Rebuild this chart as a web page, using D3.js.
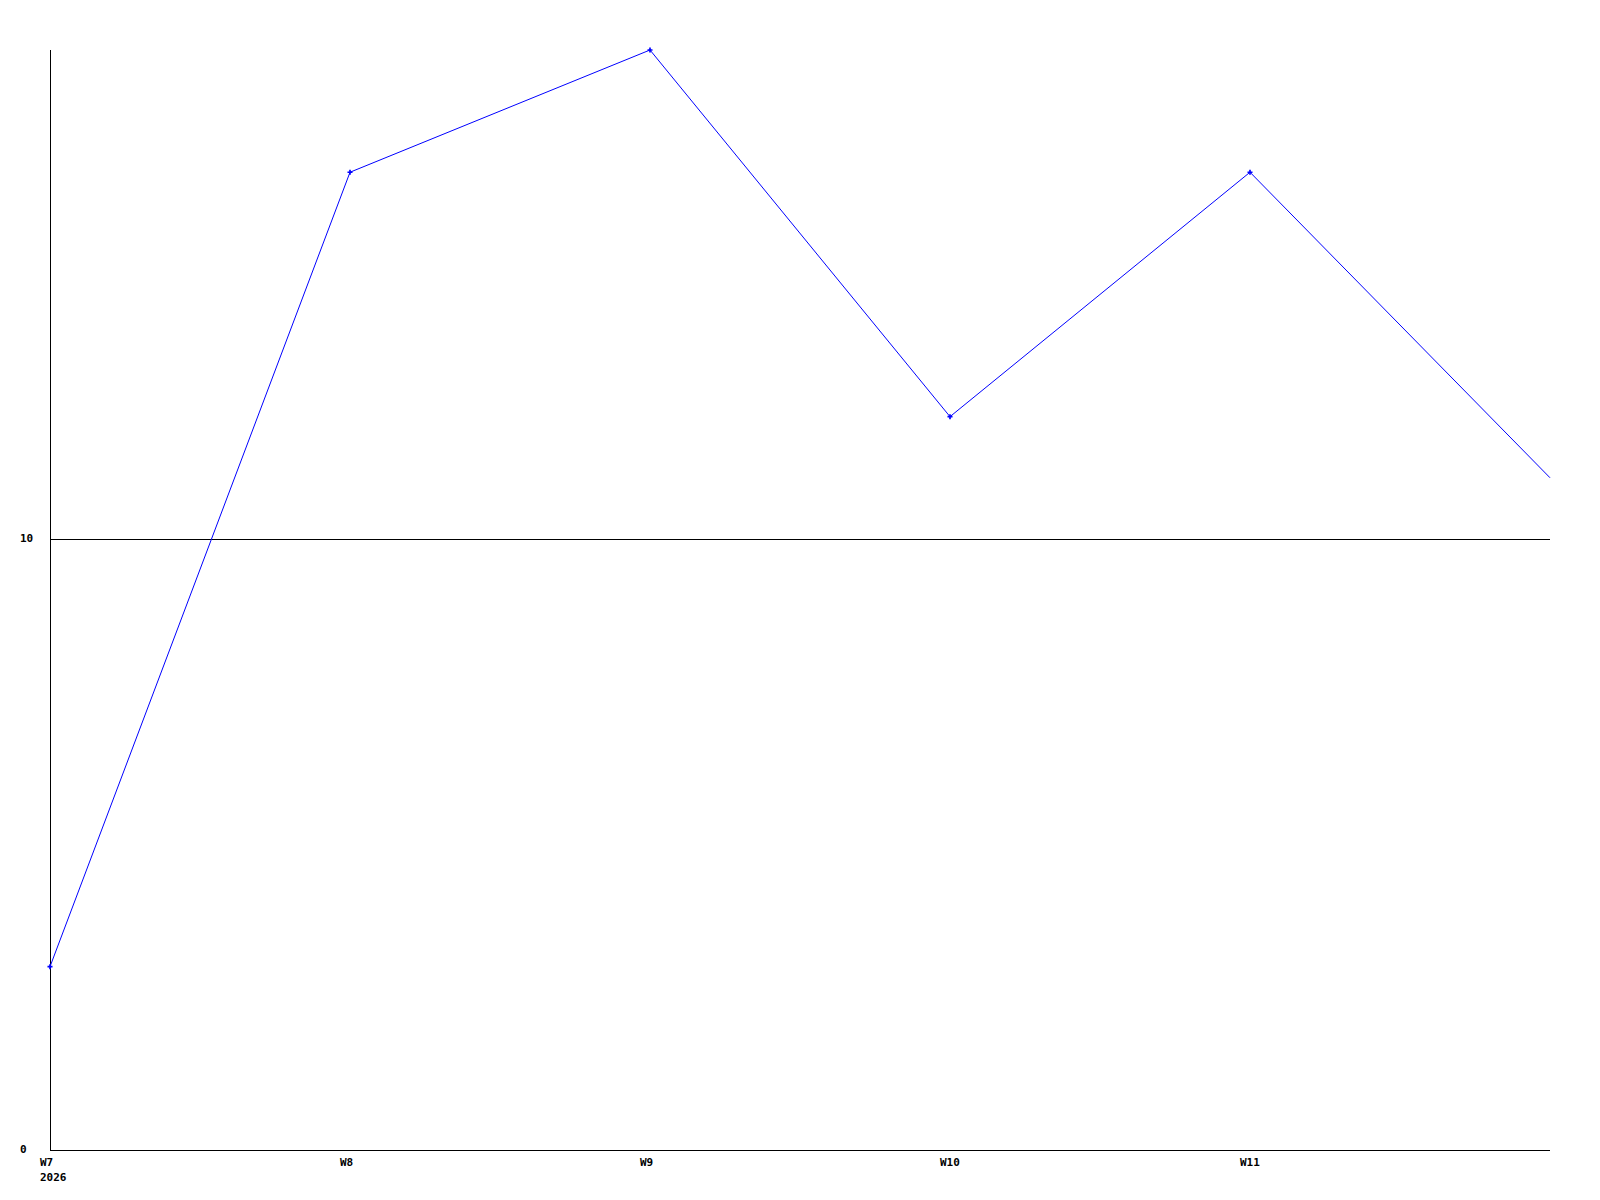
<!DOCTYPE html>
<html>
<head>
<meta charset="utf-8">
<script src="https://cdn.jsdelivr.net/npm/d3@7"></script>
<style>
  body { margin: 0; background: #fff; }
  text { font-family: "DejaVu Sans Mono", monospace; font-weight: bold; font-size: 11px; }
</style>
</head>
<body>
<div id="chart"></div>
<script>
// data
const weeks = ["W7", "W8", "W9", "W10", "W11", "W12"];
const values = [3, 16, 18, 12, 16, 11];
const yTicks = [0, 10];
const yearLabel = "2026";

const width = 1600;
const height = 1200;
const margin = {left: 50, top: 50, right: 50, bottom: 50};

const x = d3.scaleLinear()
    .domain([0, weeks.length - 1])
    .range([margin.left, width - margin.right]);
const y = d3.scaleLinear()
    .domain([0, 18])
    .range([height - margin.bottom, margin.top]);

const svg = d3.select("#chart")
    .append("svg")
    .attr("width", width)
    .attr("height", height);

svg.append("defs").append("clipPath")
    .attr("id", "plot")
    .append("rect")
    .attr("x", margin.left - 5)
    .attr("y", margin.top - 5)
    .attr("width", width - margin.left - margin.right + 6)
    .attr("height", height - margin.top - margin.bottom + 10);

// gridline at 10
svg.selectAll("line.grid")
    .data(yTicks.filter(d => d > 0))
    .enter()
    .append("line")
    .attr("class", "grid")
    .attr("x1", margin.left)
    .attr("x2", width - margin.right)
    .attr("y1", d => Math.round(y(d)) + 0.5)
    .attr("y2", d => Math.round(y(d)) + 0.5)
    .style("stroke", "black")
    .style("stroke-width", 1);

// axes
svg.append("line")
    .attr("x1", margin.left + 0.5).attr("x2", margin.left + 0.5)
    .attr("y1", margin.top).attr("y2", height - margin.bottom)
    .style("stroke", "black");
svg.append("line")
    .attr("x1", margin.left).attr("x2", width - margin.right)
    .attr("y1", height - margin.bottom + 0.5).attr("y2", height - margin.bottom + 0.5)
    .style("stroke", "black");

// y labels
svg.selectAll("text.ylab")
    .data(yTicks)
    .enter()
    .append("text")
    .attr("class", "ylab")
    .attr("x", 20)
    .attr("y", d => y(d) + 3)
    .text(d => d);

// x labels (last week sits on the edge, no label)
svg.selectAll("text.xlab")
    .data(weeks.slice(0, weeks.length - 1))
    .enter()
    .append("text")
    .attr("class", "xlab")
    .attr("x", (d, i) => x(i) - 10)
    .attr("y", height - margin.bottom + 16)
    .text(d => d);

svg.append("text")
    .attr("x", x(0) - 10)
    .attr("y", height - margin.bottom + 31)
    .text(yearLabel);

// series
const line = d3.line()
    .x((d, i) => x(i))
    .y(d => y(d));

const g = svg.append("g").attr("clip-path", "url(#plot)");

g.append("path")
    .datum(values)
    .attr("d", line)
    .style("fill", "none")
    .style("stroke", "#0000ff")
    .style("stroke-width", 1);

// markers: the last week is cut off at the right edge, so no marker there
g.selectAll("path.pt")
    .data(values.slice(0, values.length - 1))
    .enter()
    .append("path")
    .attr("class", "pt")
    .attr("transform", (d, i) => "translate(" + x(i) + "," + y(d) + ")")
    .attr("d", d3.symbol().type(d3.symbolCross).size(14))
    .style("fill", "#0000ff");
</script>
</body>
</html>
